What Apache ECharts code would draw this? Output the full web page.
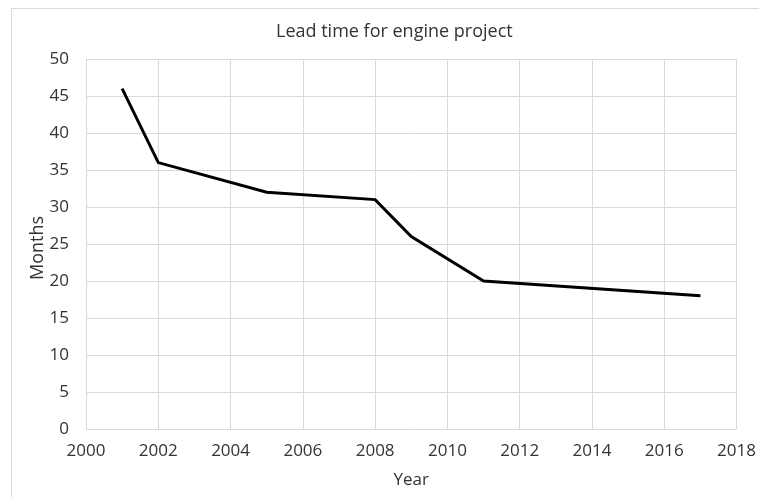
<!DOCTYPE html>
<html>
<head>
<meta charset="utf-8">
<script src="https://cdn.jsdelivr.net/npm/echarts@6/dist/echarts.min.js"></script>
<style>
  html, body { margin: 0; padding: 0; background: #fff; }
  #chart { width: 759px; height: 497px; }
</style>
</head>
<body>
<div id="chart"></div>
<script>
// Lead time (months) by year
const years = [2001, 2002, 2005, 2008, 2009, 2011, 2017];
const months = [46, 36, 32, 31, 26, 20, 18];

const textColor = '#333333';
const gridColor = '#d9d9d9';
const font = '"Open Sans", "Liberation Sans", sans-serif';

const chart = echarts.init(document.getElementById('chart'), null, { renderer: 'canvas' });
chart.setOption({
  backgroundColor: '#fff',
  animation: false,
  graphic: [{
    type: 'rect',
    shape: { x: 11.5, y: 8.5, width: 800, height: 600 },
    style: { fill: 'none', stroke: gridColor, lineWidth: 1 },
    silent: true
  }, {
    // vertical axis title
    type: 'text',
    x: 38, y: 248,
    rotation: Math.PI / 2,
    style: {
      text: 'Months',
      fontFamily: font, fontSize: 18, fill: textColor,
      align: 'center', verticalAlign: 'middle'
    },
    silent: true
  }],
  title: {
    text: 'Lead time for engine project',
    left: 271,
    top: 18,
    textStyle: { fontFamily: font, fontSize: 18, fontWeight: 'normal', color: textColor }
  },
  grid: { left: 86, right: 22, top: 59, bottom: 68 },
  xAxis: {
    type: 'value',
    min: 2000, max: 2018, interval: 2,
    name: 'Year',
    nameLocation: 'middle',
    nameGap: 43,
    nameTextStyle: { fontFamily: font, fontSize: 17, color: textColor },
    axisLine: { show: false },
    axisTick: { show: false },
    axisLabel: { fontFamily: font, fontSize: 17, color: textColor, margin: 14, formatter: v => String(v) },
    splitLine: { show: true, lineStyle: { color: gridColor, width: 1 } }
  },
  yAxis: {
    type: 'value',
    min: 0, max: 50, interval: 5,
    axisLine: { show: false },
    axisTick: { show: false },
    axisLabel: { fontFamily: font, fontSize: 17, color: textColor, margin: 17 },
    splitLine: { show: true, lineStyle: { color: gridColor, width: 1 } }
  },
  series: [{
    type: 'line',
    data: years.map((y, i) => [y, months[i]]),
    symbol: 'none',
    lineStyle: { color: '#000', width: 3, join: 'miter' },
    silent: true
  }]
});
</script>
</body>
</html>
